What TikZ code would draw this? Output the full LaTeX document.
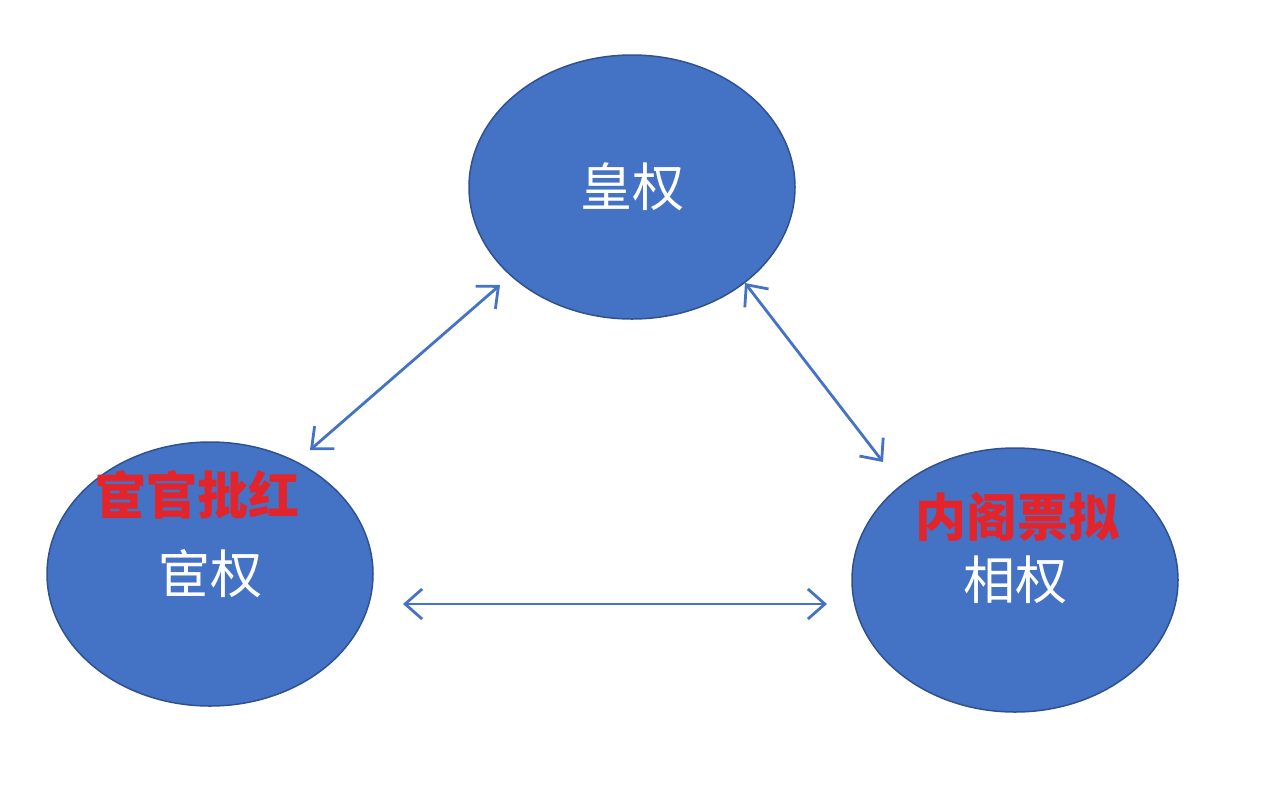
\documentclass[tikz,border=0pt]{standalone}
\usepackage{fontspec}
\newfontfamily\cjk{Noto Sans CJK SC}
\usetikzlibrary{shapes.geometric, arrows.meta}
\definecolor{powerblue}{HTML}{4472C4}
\definecolor{powerrim}{HTML}{2F528F}
\definecolor{notered}{HTML}{E3242B}

\begin{document}
\begin{tikzpicture}[x=1pt, y=-1pt,
		power/.style={ellipse, draw=powerrim, line width=1.5pt, fill=powerblue, minimum width=326pt, minimum height=264pt, inner sep=0pt, text=white, font=\cjk\fontsize{52}{52}\selectfont},
		note/.style={text=notered, inner sep=0pt, font=\cjk\bfseries\fontsize{51}{51}\selectfont},
		link/.style={draw=powerblue, line width=2.8pt, {Straight Barb[length=17pt,width=30pt]}-{Straight Barb[length=17pt,width=30pt]}}]
		\useasboundingbox (0,0) rectangle (1280,807);
		
		% the three powers
		\node [power] (huang) at (632,187) {皇权};
		\node [power] (huan) at (210,574) {宦权};
		\node [power] (xiang) at (1015,580) {相权};
		
		\node [note] (pihong) at (197,495) {宦官批红};
		\node [note] (piaoni) at (1017,517) {内阁票拟};
		
		% arrow ends
		\coordinate (huang left) at (500,285);
		\coordinate (huang right) at (745,283);
		\coordinate (huan top) at (310,450);
		\coordinate (huan right) at (403,604);
		\coordinate (xiang top) at (883,462);
		\coordinate (xiang left) at (827,604);
		
		\draw [link] (huan top) -- (huang left);
		\draw [link] (huang right) -- (xiang top);
		\draw [link] (huan right) -- (xiang left);
	\end{tikzpicture}
\end{document}
